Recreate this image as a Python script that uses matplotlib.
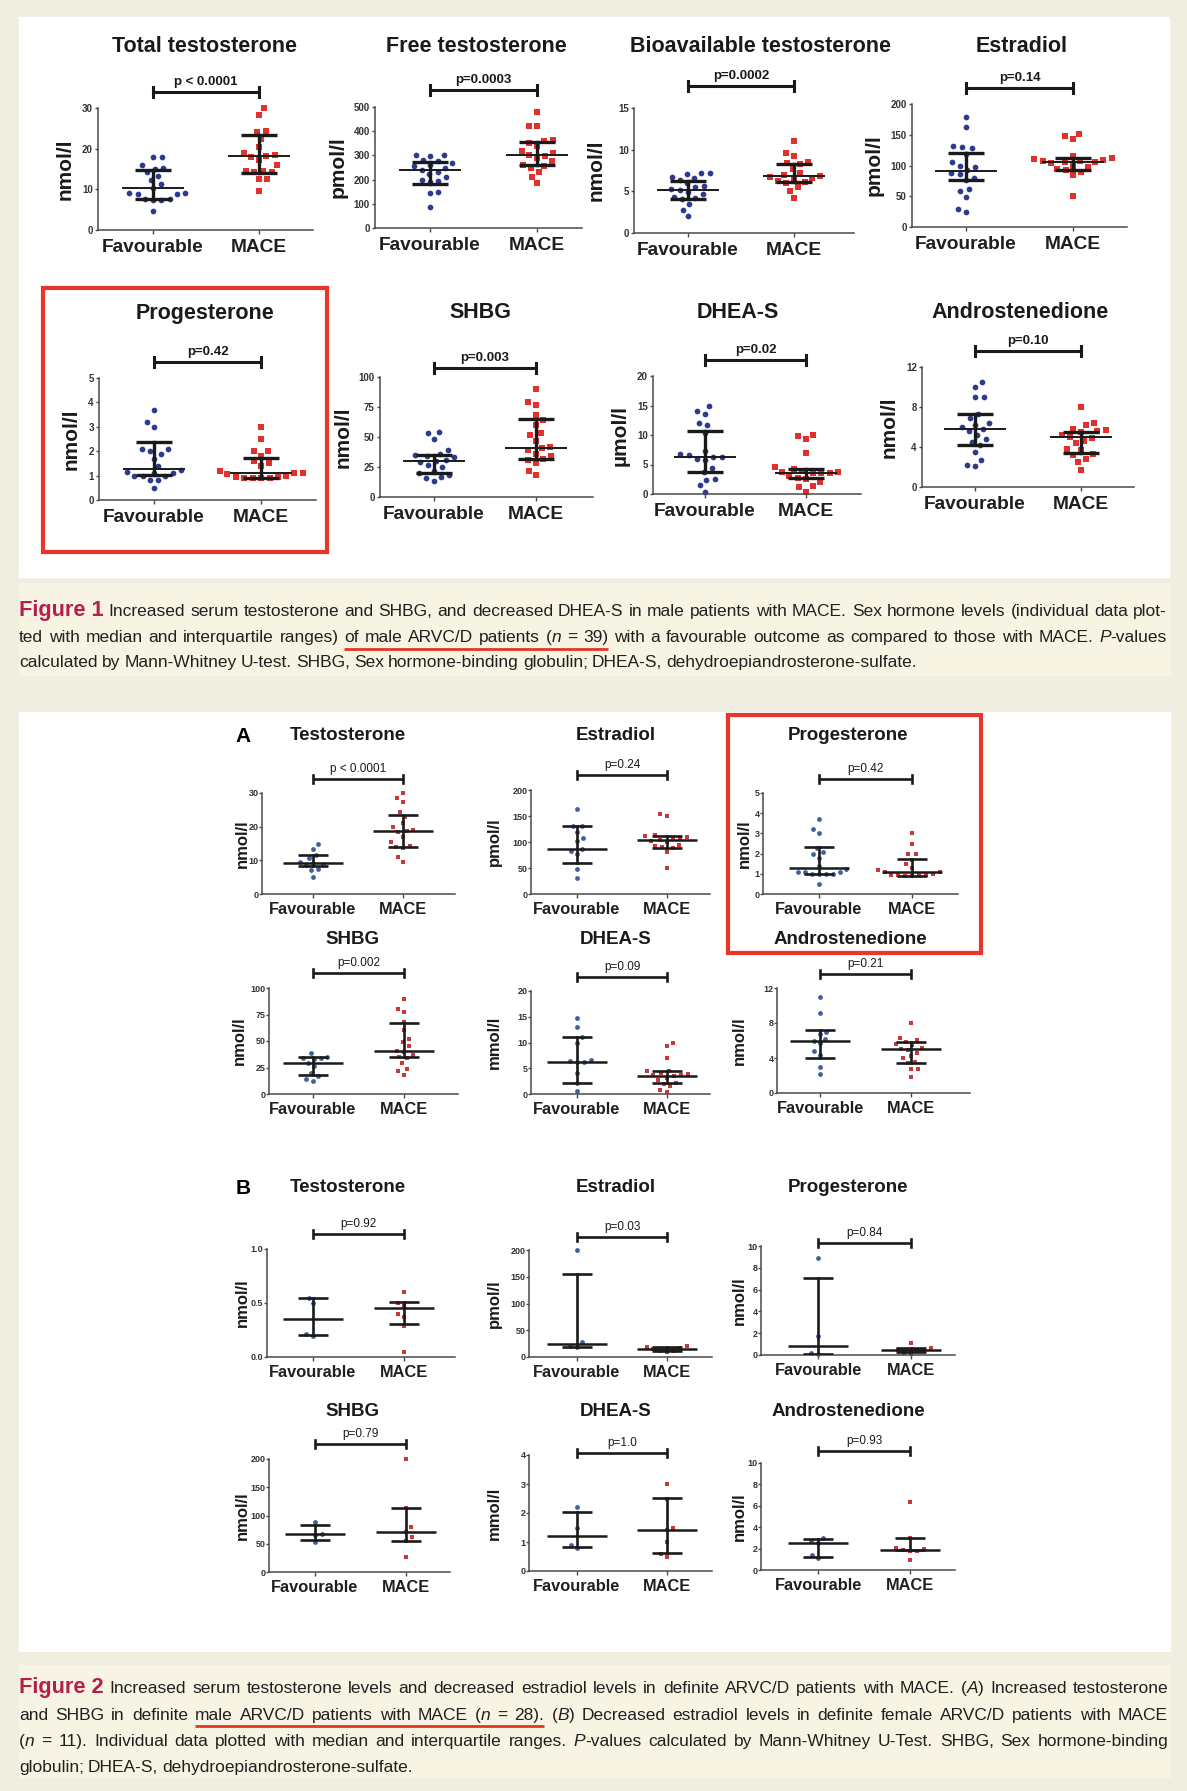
import numpy as np
import matplotlib
matplotlib.use('Agg')
import matplotlib.pyplot as plt
from matplotlib.lines import Line2D
from matplotlib.patches import Rectangle
from matplotlib import font_manager as fm

### Data (Favourable / MACE values, median, q1, q3)
# Figure 1 - male ARVC/D patients
f1_tt_fav = [18, 18, 15.9, 15.3, 15.1, 14.2, 13.2, 12.3, 11.2, 10.3, 9.1, 9.0, 8.9, 8.8, 7.7, 7.6, 7.5, 7.4, 4.7]
f1_tt_mace = [30, 28.3, 24.3, 24.2, 22.5, 20.5, 19.0, 18.5, 18.2, 18.0, 17.2, 16.0, 14.6, 14.4, 14.3, 14.2, 12.6, 12.5, 9.5]
f1_tt_med, f1_tt_q1, f1_tt_q3 = [10.3, 18.2], [7.6, 14.1], [14.8, 23.3]

f1_ft_fav = [303, 300, 298, 280, 275, 270, 262, 258, 250, 240, 232, 225, 210, 200, 195, 190, 150, 145, 88]
f1_ft_mace = [480, 422, 420, 362, 358, 350, 340, 320, 310, 300, 298, 290, 275, 262, 258, 250, 232, 212, 185]
f1_ft_med, f1_ft_q1, f1_ft_q3 = [238, 303], [183, 262], [273, 354]

f1_bt_fav = [7.2, 7.2, 7.1, 6.7, 6.6, 6.4, 6.0, 5.7, 5.5, 5.3, 5.2, 4.9, 4.7, 4.3, 4.2, 4.1, 3.5, 2.8, 2.0]
f1_bt_mace = [11.0, 9.6, 9.2, 8.5, 8.4, 8.3, 7.7, 7.2, 7.0, 6.8, 6.7, 6.6, 6.5, 6.2, 6.1, 6.0, 5.5, 5.1, 4.2]
f1_bt_med, f1_bt_q1, f1_bt_q3 = [5.2, 6.8], [4.1, 6.1], [6.3, 8.3]

f1_e2_fav = [179, 163, 131, 130, 128, 118, 105, 100, 98, 92, 88, 86, 80, 77, 62, 58, 49, 29, 25]
f1_e2_mace = [152, 148, 143, 116, 112, 110, 109, 108, 107, 106, 105, 104, 100, 98, 95, 92, 90, 85, 50]
f1_e2_med, f1_e2_q1, f1_e2_q3 = [90.5, 106], [76, 92], [120, 113]

f1_pg_fav = [3.7, 3.2, 3.0, 2.1, 2.1, 2.0, 1.9, 1.7, 1.4, 1.25, 1.15, 1.1, 1.1, 1.0, 1.0, 1.0, 0.8, 0.8, 0.5]
f1_pg_mace = [3.0, 2.5, 2.0, 2.0, 1.8, 1.6, 1.5, 1.4, 1.2, 1.1, 1.1, 1.05, 1.0, 0.95, 0.93, 0.92, 0.9, 0.9, 0.9]
f1_pg_med, f1_pg_q1, f1_pg_q3 = [1.26, 1.12], [1.03, 0.89], [2.36, 1.71]

f1_sh_fav = [54, 53, 48, 39, 36, 35, 34, 33, 31, 30, 29, 27, 25, 22, 20, 18, 17, 16, 13]
f1_sh_mace = [90, 79, 77, 68, 64, 60, 53, 52, 47, 42, 41, 39, 36, 34, 32, 31, 28, 22, 18]
f1_sh_med, f1_sh_q1, f1_sh_q3 = [30.2, 41], [20, 32], [35, 65]

f1_dh_fav = [14.9, 14.1, 13.6, 12.0, 11.7, 10.3, 7.3, 6.7, 6.6, 6.2, 6.2, 6.0, 5.8, 4.4, 3.8, 2.5, 2.4, 1.5, 0.4]
f1_dh_mace = [10.0, 9.8, 9.3, 7.0, 4.6, 4.2, 3.9, 3.8, 3.7, 3.6, 3.6, 3.5, 3.0, 2.7, 2.6, 2.0, 1.3, 1.2, 0.4]
f1_dh_med, f1_dh_q1, f1_dh_q3 = [6.2, 3.6], [3.8, 2.7], [10.7, 4.2]

f1_ad_fav = [10.5, 10.0, 9.0, 9.0, 7.3, 6.9, 6.4, 6.2, 6.0, 5.8, 5.6, 5.2, 4.8, 4.5, 4.2, 3.5, 2.7, 2.2, 2.1]
f1_ad_mace = [8.0, 6.4, 6.2, 5.8, 5.7, 5.6, 5.5, 5.2, 5.0, 4.9, 4.6, 4.4, 3.8, 3.7, 3.3, 3.2, 2.8, 2.5, 1.7]
f1_ad_med, f1_ad_q1, f1_ad_q3 = [5.8, 5.0], [4.2, 3.4], [7.3, 5.5]

# Figure 2A - definite male patients
f2a_tt_fav = [15.0, 13.5, 11.5, 10.8, 9.5, 9.1, 8.8, 8.5, 7.5, 7.0, 5.0]
f2a_tt_mace = [30.0, 28.5, 27.3, 24.4, 23.0, 21.0, 20.0, 19.0, 18.8, 18.5, 17.0, 15.5, 14.2, 14.0, 13.6, 11.0, 9.5]
f2a_tt_med, f2a_tt_q1, f2a_tt_q3 = [9.1, 18.8], [8.2, 14.1], [11.6, 23.6]

f2a_e2_fav = [164, 131, 130, 120, 107, 101, 86, 82, 77, 48, 31]
f2a_e2_mace = [153, 150, 113, 111, 110, 108, 106, 104, 102, 100, 95, 92, 90, 88, 80, 50]
f2a_e2_med, f2a_e2_q1, f2a_e2_q3 = [86, 104], [59, 88], [130, 112]

f2a_pg_fav = [3.7, 3.2, 3.0, 2.3, 2.1, 2.0, 1.8, 1.4, 1.25, 1.1, 1.1, 1.1, 1.0, 1.0, 1.0, 1.0, 0.5]
f2a_pg_mace = [3.0, 2.5, 2.0, 2.0, 1.7, 1.5, 1.3, 1.2, 1.1, 1.1, 1.0, 0.95, 0.95, 0.93, 0.92, 0.9, 0.9]
f2a_pg_med, f2a_pg_q1, f2a_pg_q3 = [1.27, 1.1], [1.0, 0.9], [2.34, 1.71]

f2a_sh_fav = [39, 35, 34, 34, 33, 29, 26, 20, 17, 14, 12]
f2a_sh_mace = [90, 80, 77, 68, 60, 52, 49, 45, 41, 40, 37, 35, 34, 29, 24, 22, 18]
f2a_sh_med, f2a_sh_q1, f2a_sh_q3 = [29, 41], [17.5, 35], [34.7, 67]

f2a_dh_fav = [14.8, 13.0, 11.0, 10.0, 6.6, 6.4, 6.3, 6.2, 4.0, 2.1, 0.5]
f2a_dh_mace = [10.0, 9.4, 7.0, 4.5, 4.4, 4.0, 3.8, 3.7, 3.6, 3.5, 3.2, 2.8, 2.2, 2.0, 1.5, 0.8, 0.3]
f2a_dh_med, f2a_dh_q1, f2a_dh_q3 = [6.3, 3.5], [2.1, 2.1], [11.0, 4.4]

f2a_ad_fav = [11.0, 9.1, 7.0, 6.7, 6.2, 6.0, 5.7, 4.8, 4.4, 3.0, 2.2]
f2a_ad_mace = [8.0, 6.3, 6.1, 5.8, 5.6, 5.5, 5.2, 5.0, 4.9, 4.6, 4.2, 4.0, 3.5, 3.4, 2.8, 2.7, 1.8]
f2a_ad_med, f2a_ad_q1, f2a_ad_q3 = [6.0, 5.0], [4.0, 3.4], [7.2, 5.8]

# Figure 2B - definite female patients
f2b_tt_fav = [0.55, 0.50, 0.21, 0.19]
f2b_tt_mace = [0.60, 0.50, 0.47, 0.40, 0.37, 0.29, 0.05]
f2b_tt_med, f2b_tt_q1, f2b_tt_q3 = [0.356, 0.458], [0.2, 0.303], [0.548, 0.505]

f2b_e2_fav = [200, 28, 20, 18]
f2b_e2_mace = [21, 19, 16, 15, 12, 11, 9]
f2b_e2_med, f2b_e2_q1, f2b_e2_q3 = [24, 15], [19, 11], [156, 18]

f2b_pg_fav = [8.9, 1.7, 0.15, 0.1]
f2b_pg_mace = [1.1, 0.6, 0.5, 0.45, 0.4, 0.2, 0.1]
f2b_pg_med, f2b_pg_q1, f2b_pg_q3 = [0.86, 0.5], [0.1, 0.25], [7.1, 0.6]

f2b_sh_fav = [89, 68, 66, 53]
f2b_sh_mace = [200, 113, 79, 71, 62, 55, 26]
f2b_sh_med, f2b_sh_q1, f2b_sh_q3 = [67, 71], [57, 55], [84, 113]

f2b_dh_fav = [2.2, 1.5, 0.9, 0.8]
f2b_dh_mace = [3.0, 2.5, 1.5, 1.4, 1.0, 0.6, 0.5]
f2b_dh_med, f2b_dh_q1, f2b_dh_q3 = [1.21, 1.41], [0.83, 0.61], [2.03, 2.51]

f2b_ad_fav = [3.0, 2.7, 2.5, 1.4, 1.1]
f2b_ad_mace = [6.4, 3.0, 2.1, 2.0, 1.9, 1.8, 1.8, 0.9]
f2b_ad_med, f2b_ad_q1, f2b_ad_q3 = [2.5, 1.9], [1.25, 1.85], [2.9, 3.0]

### Axis ticks
t_30 = [0, 10, 20, 30]
t_500 = [0, 100, 200, 300, 400, 500]
t_15 = [0, 5, 10, 15]
t_200 = [0, 50, 100, 150, 200]
t_5 = [0, 1, 2, 3, 4, 5]
t_100 = [0, 25, 50, 75, 100]
t_20 = [0, 5, 10, 15, 20]
t_12 = [0, 4, 8, 12]
t_1 = [0, 0.5, 1.0]
t_1_labels = ['0.0', '0.5', '1.0']
t_10 = [0, 2, 4, 6, 8, 10]
t_4 = [0, 1, 2, 3, 4]

### Text
groups = ['Favourable', 'MACE']
cap1_label = 'Figure 1'
cap1_lines = [
    'Increased serum testosterone and SHBG, and decreased DHEA-S in male patients with MACE. Sex hormone levels (individual data plot-',
    'ted with median and interquartile ranges) [of male ARVC/D patients (_n_ = 39)] with a favourable outcome as compared to those with MACE. _P_-values',
    'calculated by Mann-Whitney U-test. SHBG, Sex hormone-binding globulin; DHEA-S, dehydroepiandrosterone-sulfate.']
cap2_label = 'Figure 2'
cap2_lines = [
    'Increased serum testosterone levels and decreased estradiol levels in definite ARVC/D patients with MACE. (_A_) Increased testosterone',
    'and SHBG in definite [male ARVC/D patients with MACE (_n_ = 28).] (_B_) Decreased estradiol levels in definite female ARVC/D patients with MACE',
    '(_n_ = 11). Individual data plotted with median and interquartile ranges. _P_-values calculated by Mann-Whitney U-Test. SHBG, Sex hormone-binding',
    'globulin; DHEA-S, dehydroepiandrosterone-sulfate.']

### Fonts
names = set(f.name for f in fm.fontManager.ttflist)
NARROW = 'Liberation Sans Narrow' if 'Liberation Sans Narrow' in names else 'Liberation Sans'
plt.rcParams['font.family'] = ['Liberation Sans', 'DejaVu Sans']

W, H = 1187, 1791
fig = plt.figure(figsize=(W / 100., H / 100.), dpi=100)
fig.patch.set_facecolor('#f0ede1')


def rect(x0, y0, x1, y1, **kw):
    fig.add_artist(Rectangle((x0 / W, 1 - y1 / H), (x1 - x0) / W, (y1 - y0) / H,
                             transform=fig.transFigure, **kw))


def seg(xs, ys, **kw):
    fig.add_artist(Line2D([x / W for x in xs], [1 - y / H for y in ys],
                          transform=fig.transFigure, **kw))


def swarm(vals, ppu, d):
    """Prism-like scatter: offset points sideways (in px) so none overlap"""
    ys = np.asarray(vals, float) * ppu
    xs = np.zeros(len(ys))
    done = []
    for n, i in enumerate(np.argsort(ys)):
        y = ys[i]
        near = [(xj, yj) for xj, yj in done if abs(y - yj) < d]
        cands = [0.0]
        for xj, yj in near:
            dx = np.sqrt(d * d - (y - yj) ** 2)
            cands += [xj - dx, xj + dx]
        sgn = 1 if n % 2 else -1
        cands.sort(key=lambda c: (round(abs(c), 5), sgn * c))
        for c in cands:
            if all((c - xj) ** 2 + (y - yj) ** 2 >= d * d - 1e-6 for xj, yj in near):
                xs[i] = c
                break
        done.append((xs[i], y))
    return xs


ST1 = dict(blue='#2c3b8f', red='#e2312c', ms=17, gap=8.5, med_hw=31, cap_hw=18,
           med_lw=1.4, iqr_lw=2.4, title_fs=15.5, tick_fs=7, tick_len=2.5, tick_pad=1.2,
           xlab_fs=13.8, xpad=3.5, ylab_fs=15, ylab_dx=0, p_fs=9.5, p_w='bold',
           br_lw=2.2, br_h=5)
ST2 = dict(blue='#41609c', red='#c9393c', ms=12, gap=7, med_hw=30, cap_hw=15,
           med_lw=1.8, iqr_lw=1.9, title_fs=13.5, tick_fs=6.5, tick_len=2, tick_pad=0.6,
           xlab_fs=11.8, xpad=2.5, ylab_fs=12, ylab_dx=-4, p_fs=8.5, p_w='normal',
           br_lw=1.9, br_h=4)


def panel(lay, fav, mace, med, q1, q3, ymax, ticks, tlabels, title, ylab, ptxt, st):
    L, R, T, B, xf, xm, yb, tx, ty, lx = lay
    ax = fig.add_axes([L / W, 1 - B / H, (R - L) / W, (B - T) / H])
    ax.patch.set_alpha(0)
    unit = float(xm - xf)
    ax.set_xlim(-(xf - L) / unit, (R - xf) / unit)
    ax.set_ylim(0, ymax)
    ppu = (B - T) / float(ymax)
    for k, (vals, col, mk, ms) in enumerate([(fav, st['blue'], 'o', st['ms']),
                                             (mace, st['red'], 's', st['ms'] * 0.8)]):
        xs = k + swarm(vals, ppu, st['gap']) / unit
        ax.scatter(xs, vals, s=ms, marker=mk, color=col, lw=0, zorder=2, clip_on=False)
        hw, cw = st['med_hw'] / unit, st['cap_hw'] / unit
        ax.plot([k - hw, k + hw], [med[k]] * 2, color='#1a1a1a', lw=st['med_lw'],
                zorder=3, solid_capstyle='butt')
        ax.plot([k, k], [q1[k], q3[k]], color='#1a1a1a', lw=st['iqr_lw'], zorder=3)
        for q in (q1[k], q3[k]):
            ax.plot([k - cw, k + cw], [q, q], color='#1a1a1a', lw=st['iqr_lw'],
                    zorder=3, solid_capstyle='butt')
    for s in ('top', 'right'):
        ax.spines[s].set_visible(False)
    for s in ('left', 'bottom'):
        ax.spines[s].set_color('#4a4a4a')
        ax.spines[s].set_linewidth(1.1)
    ax.set_yticks(ticks)
    ax.set_yticklabels(tlabels, fontsize=st['tick_fs'], weight='bold', color='#333333',
                       family=[NARROW, 'DejaVu Sans'])
    ax.set_xticks([0, 1])
    ax.set_xticklabels(groups, fontsize=st['xlab_fs'], weight='bold', color='#1f1f1f')
    ax.tick_params(axis='y', length=st['tick_len'], width=1, pad=st['tick_pad'], color='#4a4a4a')
    ax.tick_params(axis='x', length=3, width=1, pad=st['xpad'], color='#4a4a4a')
    fig.text(tx / W, 1 - ty / H, title, ha='center', va='center',
             fontsize=st['title_fs'], weight='bold', color='#1a1a1a')
    fig.text((lx + st['ylab_dx']) / W, 1 - (T + B) / 2. / H, ylab, ha='center', va='center',
             rotation=90, fontsize=st['ylab_fs'], weight='bold', color='#1a1a1a')
    seg([xf, xm], [yb, yb], color='#1a1a1a', lw=st['br_lw'], solid_capstyle='butt')
    for x in (xf, xm):
        seg([x, x], [yb - st['br_h'], yb + st['br_h']], color='#1a1a1a', lw=st['br_lw'])
    fig.text((xf + xm) / 2. / W, 1 - (yb - 4) / H, ptxt, ha='center', va='bottom',
             fontsize=st['p_fs'], weight=st['p_w'], color='#1a1a1a',
             family=[NARROW, 'DejaVu Sans'])


def lab(ticks):
    return ['%g' % t for t in ticks]


### Backgrounds
rect(19, 17, 1169, 577, color='white', zorder=-5)
rect(19, 712, 1170, 1651, color='white', zorder=-5)
rect(19, 583, 1170, 675, color='#f8f4e4', zorder=-5)
rect(19, 1665, 1170, 1777, color='#f8f4e4', zorder=-5)

### Panels: (left, right, top, bottom, x_fav, x_mace, bracket_y, title_x, title_y, ylabel_x) in px
panels = [
    ((98, 313, 108, 230, 153, 259, 92, 205, 46, 65), f1_tt_fav, f1_tt_mace, f1_tt_med, f1_tt_q1, f1_tt_q3,
     30, t_30, lab(t_30), 'Total testosterone', 'nmol/l', 'p < 0.0001', ST1),
    ((375, 582, 107, 228, 430, 537, 90, 476, 46, 338), f1_ft_fav, f1_ft_mace, f1_ft_med, f1_ft_q1, f1_ft_q3,
     500, t_500, lab(t_500), 'Free testosterone', 'pmol/l', 'p=0.0003', ST1),
    ((634, 854, 108, 233, 688, 794, 86, 761, 46, 596), f1_bt_fav, f1_bt_mace, f1_bt_med, f1_bt_q1, f1_bt_q3,
     15, t_15, lab(t_15), 'Bioavailable testosterone', 'nmol/l', 'p=0.0002', ST1),
    ((912, 1127, 104, 227, 966, 1073, 88, 1022, 46, 874), f1_e2_fav, f1_e2_mace, f1_e2_med, f1_e2_q1, f1_e2_q3,
     200, t_200, lab(t_200), 'Estradiol', 'pmol/l', 'p=0.14', ST1),
    ((99, 316, 378, 500, 154, 261, 362, 205, 313, 71), f1_pg_fav, f1_pg_mace, f1_pg_med, f1_pg_q1, f1_pg_q3,
     5, t_5, lab(t_5), 'Progesterone', 'nmol/l', 'p=0.42', ST1),
    ((380, 593, 377, 497, 434, 536, 368, 480, 313, 343), f1_sh_fav, f1_sh_mace, f1_sh_med, f1_sh_q1, f1_sh_q3,
     100, t_100, lab(t_100), 'SHBG', 'nmol/l', 'p=0.003', ST1),
    ((653, 861, 376, 494, 705, 806, 360, 738, 313, 620), f1_dh_fav, f1_dh_mace, f1_dh_med, f1_dh_q1, f1_dh_q3,
     20, t_20, lab(t_20), 'DHEA-S', '\u00b5mol/l', 'p=0.02', ST1),
    ((922, 1134, 367, 487, 975, 1081, 351, 1020, 313, 889), f1_ad_fav, f1_ad_mace, f1_ad_med, f1_ad_q1, f1_ad_q3,
     12, t_12, lab(t_12), 'Androstenedione', 'nmol/l', 'p=0.10', ST1),
    ((262, 455, 793, 894, 313, 403, 779, 348, 736, 246), f2a_tt_fav, f2a_tt_mace, f2a_tt_med, f2a_tt_q1, f2a_tt_q3,
     30, t_30, lab(t_30), 'Testosterone', 'nmol/l', 'p < 0.0001', ST2),
    ((531, 710, 790, 894, 577, 667, 775, 616, 736, 498), f2a_e2_fav, f2a_e2_mace, f2a_e2_med, f2a_e2_q1, f2a_e2_q3,
     200, t_200, lab(t_200), 'Estradiol', 'pmol/l', 'p=0.24', ST2),
    ((763, 958, 793, 894, 819, 912, 779, 848, 736, 748), f2a_pg_fav, f2a_pg_mace, f2a_pg_med, f2a_pg_q1, f2a_pg_q3,
     5, t_5, lab(t_5), 'Progesterone', 'nmol/l', 'p=0.42', ST2),
    ((269, 458, 988, 1094, 313, 404, 973, 352, 939, 243), f2a_sh_fav, f2a_sh_mace, f2a_sh_med, f2a_sh_q1, f2a_sh_q3,
     100, t_100, lab(t_100), 'SHBG', 'nmol/l', 'p=0.002', ST2),
    ((531, 710, 991, 1094, 577, 667, 977, 616, 939, 498), f2a_dh_fav, f2a_dh_mace, f2a_dh_med, f2a_dh_q1, f2a_dh_q3,
     20, t_20, lab(t_20), 'DHEA-S', 'mmol/l', 'p=0.09', ST2),
    ((777, 970, 988, 1093, 820, 911, 974, 850, 939, 743), f2a_ad_fav, f2a_ad_mace, f2a_ad_med, f2a_ad_q1, f2a_ad_q3,
     12, t_12, lab(t_12), 'Androstenedione', 'nmol/l', 'p=0.21', ST2),
    ((267, 455, 1249, 1357, 313, 404, 1234, 348, 1188, 246), f2b_tt_fav, f2b_tt_mace, f2b_tt_med, f2b_tt_q1, f2b_tt_q3,
     1.0, t_1, t_1_labels, 'Testosterone', 'nmol/l', 'p=0.92', ST2),
    ((529, 712, 1250, 1357, 577, 667, 1237, 616, 1188, 498), f2b_e2_fav, f2b_e2_mace, f2b_e2_med, f2b_e2_q1, f2b_e2_q3,
     200, t_200, lab(t_200), 'Estradiol', 'pmol/l', 'p=0.03', ST2),
    ((761, 955, 1246, 1355, 818, 911, 1243, 848, 1188, 743), f2b_pg_fav, f2b_pg_mace, f2b_pg_med, f2b_pg_q1, f2b_pg_q3,
     10, t_10, lab(t_10), 'Progesterone', 'nmol/l', 'p=0.84', ST2),
    ((269, 450, 1459, 1572, 315, 406, 1444, 352, 1411, 246), f2b_sh_fav, f2b_sh_mace, f2b_sh_med, f2b_sh_q1, f2b_sh_q3,
     200, t_200, lab(t_200), 'SHBG', 'nmol/l', 'p=0.79', ST2),
    ((529, 712, 1455, 1571, 577, 667, 1453, 616, 1411, 498), f2b_dh_fav, f2b_dh_mace, f2b_dh_med, f2b_dh_q1, f2b_dh_q3,
     4, t_4, lab(t_4), 'DHEA-S', 'mmol/l', 'p=1.0', ST2),
    ((761, 955, 1463, 1570, 818, 910, 1451, 848, 1411, 743), f2b_ad_fav, f2b_ad_mace, f2b_ad_med, f2b_ad_q1, f2b_ad_q3,
     10, t_10, lab(t_10), 'Androstenedione', 'nmol/l', 'p=0.93', ST2),
]
for p in panels:
    panel(*p)

### Panel letters and highlight boxes
fig.text(243 / W, 1 - 736 / H, 'A', ha='center', va='center', fontsize=15, weight='bold')
fig.text(243 / W, 1 - 1188 / H, 'B', ha='center', va='center', fontsize=15, weight='bold')
rect(43, 288, 327, 552, fill=False, edgecolor='#e8362b', lw=3, zorder=10)
rect(728, 715, 981, 953, fill=False, edgecolor='#e8362b', lw=3, zorder=10)


### Justified captions
def parse(line):
    words, under = [], False
    for w in line.split(' '):
        if w.startswith('['):
            under = True
            w = w[1:]
        end = w.endswith(']')
        if end:
            w = w[:-1]
        parts = [(s, 'it' if i % 2 else 'rm') for i, s in enumerate(w.split('_')) if s]
        words.append((parts, under))
        if end:
            under = False
    return words


def caption(label, lines, baselines, x0, x1, size, ul_off):
    r = fig.canvas.get_renderer()
    for li, (line, yb) in enumerate(zip(lines, baselines)):
        justify = li < len(lines) - 1
        words = parse(line)
        if li == 0:
            words = [([(label, 'lab')], False)] + words
        fs = size
        while True:
            placed, total = [], 0
            for parts, u in words:
                arts = []
                for s, sty in parts:
                    kw = dict(fontsize=fs, family=[NARROW, 'DejaVu Sans'], color='#231f20',
                              ha='left', va='baseline')
                    if sty == 'it':
                        kw['style'] = 'italic'
                    if sty == 'lab':
                        kw.update(fontsize=size * 1.25, weight='bold', color='#b51f4c')
                    t = fig.text(0, 0, s, **kw)
                    arts.append((t, t.get_window_extent(r).width))
                ww = sum(a[1] for a in arts)
                placed.append((arts, ww, u))
                total += ww
            gap = (x1 - x0 - total) / (len(placed) - 1) if justify else 0.24 * fs * 100 / 72.
            if gap >= 3.0 or fs < 8:
                break
            for arts, ww, u in placed:
                for t, wd in arts:
                    t.remove()
            fs -= 0.25
        x = x0
        runs = []
        for arts, ww, u in placed:
            xa = x
            for t, wd in arts:
                t.set_position((x / W, 1 - yb / H))
                x += wd
            if u:
                runs.append((xa, x))
            x += gap
        if runs:
            seg([runs[0][0], runs[-1][1]], [yb + ul_off] * 2, color='#e53525', lw=2,
                solid_capstyle='butt')


caption(cap1_label, cap1_lines, [616, 642, 667], 19, 1167, 12.5, 7)
caption(cap2_label, cap2_lines, [1693, 1720, 1746, 1772], 19, 1168, 12.5, 6)

plt.savefig('out.png', dpi=100, facecolor=fig.get_facecolor())
